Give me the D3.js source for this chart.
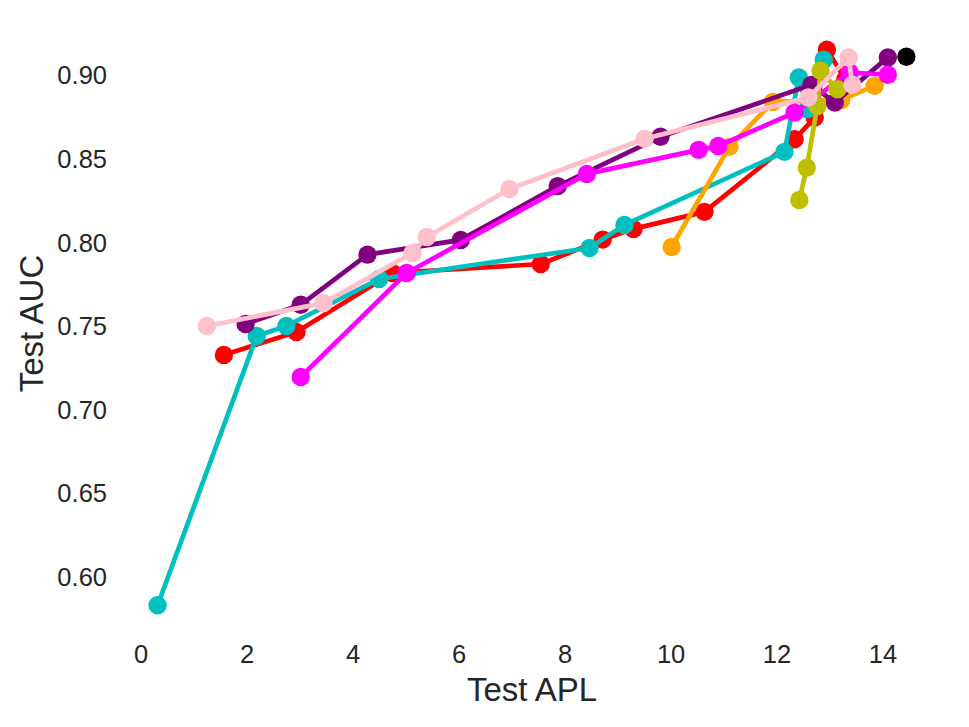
<!DOCTYPE html>
<meta charset="utf-8">
<style>
  body { margin: 0; background: #fff; }
  text { font-family: "Liberation Sans", Arial, sans-serif; fill: #262626; }
</style>

<script src="https://d3js.org/d3.v7.min.js"></script>

<div id="my_dataviz"></div>
<script>

// values, one pair of arrays per run
var redX     = [1.57, 2.94, 4.75, 7.55, 8.72, 9.30, 10.64, 12.34, 12.72, 12.95, 13.30],
    redY     = [0.733, 0.7467, 0.782, 0.7874, 0.802, 0.8084, 0.8186, 0.862, 0.875, 0.9156, 0.898];
var cyanX    = [0.32, 2.19, 2.75, 4.50, 8.47, 9.13, 12.15, 12.42, 12.58, 12.89],
    cyanY    = [0.5832, 0.7443, 0.7503, 0.7784, 0.797, 0.8108, 0.8545, 0.899, 0.880, 0.9096];
var orangeX  = [10.02, 11.11, 11.93, 13.22, 13.85],
    orangeY  = [0.7976, 0.8575, 0.8844, 0.8856, 0.894];
var purpleX  = [1.98, 3.02, 4.28, 6.04, 7.87, 9.81, 12.66, 13.10, 14.10],
    purpleY  = [0.7515, 0.763, 0.793, 0.8018, 0.834, 0.8635, 0.8946, 0.884, 0.911];
var magentaX = [3.02, 5.02, 8.42, 10.53, 10.90, 12.34, 13.38, 14.10],
    magentaY = [0.7198, 0.782, 0.8413, 0.8557, 0.858, 0.878, 0.902, 0.9006];
var oliveX   = [12.43, 12.57, 12.77, 12.83, 13.15],
    oliveY   = [0.8257, 0.845, 0.882, 0.903, 0.892];
var pinkX    = [1.25, 3.45, 5.13, 5.40, 6.96, 9.51, 12.60, 13.36, 13.43],
    pinkY    = [0.7503, 0.764, 0.794, 0.8036, 0.8323, 0.8623, 0.887, 0.911, 0.8946];
var blackX   = [14.45],
    blackY   = [0.9114];

var xTicks = [0, 2, 4, 6, 8, 10, 12, 14];
var yTicks = [0.60, 0.65, 0.70, 0.75, 0.80, 0.85, 0.90];

// drawing order matters: later runs sit on top
var series = [
  {color: "#ff0000", x: redX,     y: redY},
  {color: "#00bfbf", x: cyanX,    y: cyanY},
  {color: "#ffa500", x: orangeX,  y: orangeY},
  {color: "#800080", x: purpleX,  y: purpleY},
  {color: "#ff00ff", x: magentaX, y: magentaY},
  {color: "#bfbf00", x: oliveX,   y: oliveY},
  {color: "#ffc0cb", x: pinkX,    y: pinkY},
  {color: "#000000", x: blackX,   y: blackY}
];

// set the dimensions and margins of the graph
var margin = {top: 22, right: 25, bottom: 94, left: 120},
    width = 969 - margin.left - margin.right,
    height = 727 - margin.top - margin.bottom;

var svg = d3.select("#my_dataviz")
  .append("svg")
    .attr("width", width + margin.left + margin.right)
    .attr("height", height + margin.top + margin.bottom)
  .append("g")
    .attr("transform", "translate(" + margin.left + "," + margin.top + ")");

var x = d3.scaleLinear()
  .domain([-0.39, 15.16])
  .range([0, width]);

var y = d3.scaleLinear()
  .domain([0.5666, 0.9322])
  .range([height, 0]);

// X axis, no spine and no tick marks (white style)
var xAxis = svg.append("g")
  .attr("transform", "translate(0," + height + ")")
  .call(d3.axisBottom(x).tickValues(xTicks).tickFormat(d3.format("d")).tickSize(0).tickPadding(12));
xAxis.select(".domain").remove();
xAxis.selectAll("text")
  .style("font-size", "25.5px")
  .style("font-family", "'Liberation Sans', Arial, sans-serif")
  .attr("fill", "#262626");

// Y axis
var yAxis = svg.append("g")
  .call(d3.axisLeft(y).tickValues(yTicks).tickFormat(d3.format(".2f")).tickSize(0).tickPadding(13));
yAxis.select(".domain").remove();
yAxis.selectAll("text")
  .style("font-size", "25.5px")
  .style("font-family", "'Liberation Sans', Arial, sans-serif")
  .attr("fill", "#262626");

// axis titles
svg.append("text")
  .attr("x", width / 2)
  .attr("y", height + 68)
  .style("text-anchor", "middle")
  .style("font-size", "33px")
  .text("Test APL");

svg.append("text")
  .attr("transform", "rotate(-90)")
  .attr("x", -height / 2 + 4)
  .attr("y", -77)
  .style("text-anchor", "middle")
  .style("font-size", "33px")
  .text("Test AUC");

var line = d3.line()
  .x(function(d) { return x(d[0]); })
  .y(function(d) { return y(d[1]); });

series.forEach(function(s) {
  var pts = s.x.map(function(v, i) { return [v, s.y[i]]; });
  var g = svg.append("g");
  if (pts.length > 1) {
    g.append("path")
      .datum(pts)
      .attr("d", line)
      .attr("fill", "none")
      .attr("stroke", s.color)
      .attr("stroke-width", 4.7)
      .attr("stroke-linejoin", "round")
      .attr("stroke-linecap", "square");
  }
  g.selectAll("circle")
    .data(pts)
    .enter()
    .append("circle")
      .attr("cx", function(d) { return x(d[0]); })
      .attr("cy", function(d) { return y(d[1]); })
      .attr("r", 9.2)
      .attr("fill", s.color);
});

</script>
